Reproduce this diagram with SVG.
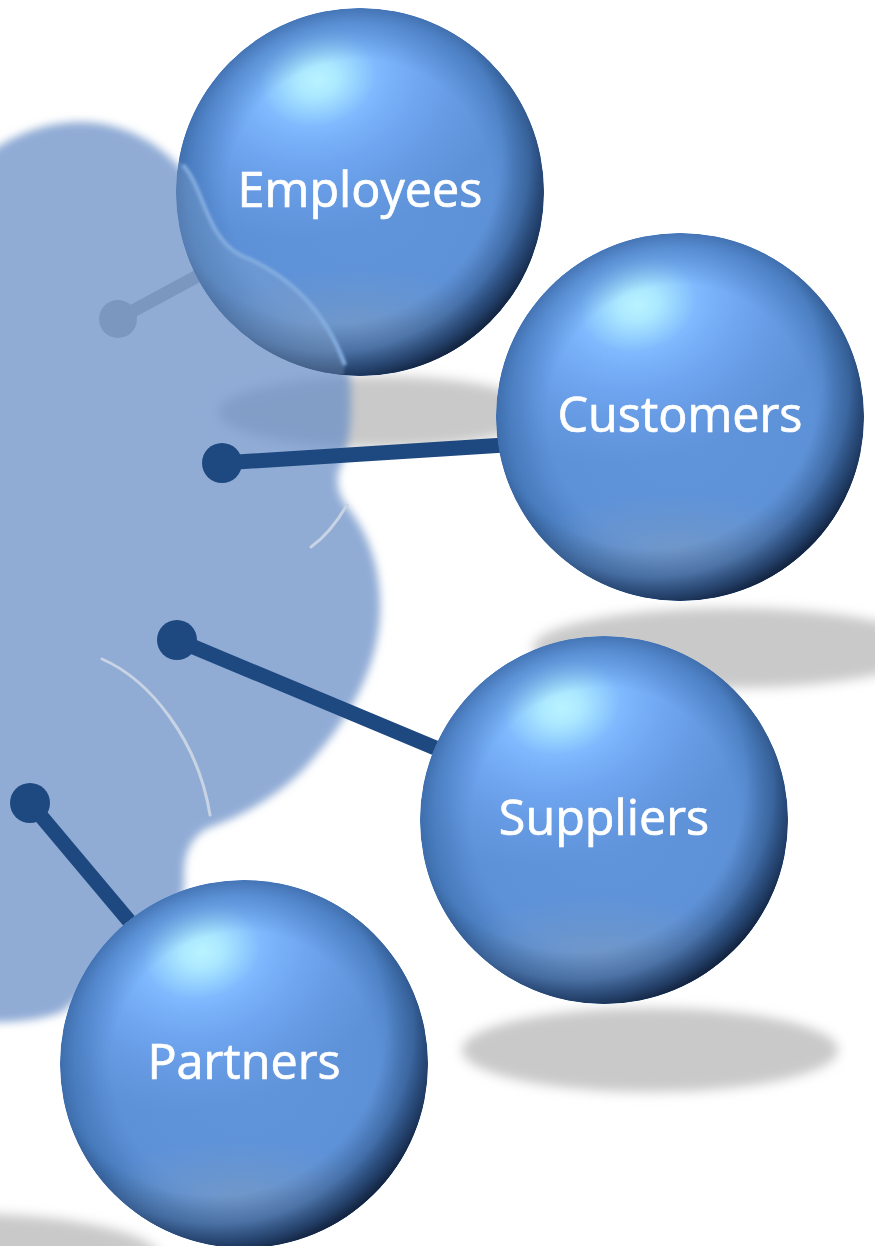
<svg xmlns="http://www.w3.org/2000/svg" xmlns:xlink="http://www.w3.org/1999/xlink" width="875" height="1246" viewBox="0 0 875 1246">
<style>
.shadow{fill:#c9c9c9;filter:url(#b6)}
.lbl{font-family:"Open Sans","Noto Sans","DejaVu Sans",sans-serif;font-size:48.5px;fill:#fff;stroke:#fff;stroke-width:.7;text-anchor:middle}
.conn{stroke:#1e4880;stroke-width:15;fill:none}
.dot{fill:#1e4880}
.arc{fill:none;stroke:#c8d3e3;stroke-width:3;stroke-linecap:round;filter:url(#b05)}
</style>
<defs>
<filter id="b6" x="-20%" y="-40%" width="140%" height="180%"><feGaussianBlur stdDeviation="6"/></filter>
<filter id="b3" x="-5%" y="-5%" width="110%" height="110%"><feGaussianBlur stdDeviation="4"/></filter>
<filter id="b1" x="-20%" y="-20%" width="140%" height="140%"><feGaussianBlur stdDeviation="1.6"/></filter>
<filter id="b05" x="-20%" y="-20%" width="140%" height="140%"><feGaussianBlur stdDeviation=".6"/></filter>
<radialGradient id="base" cx=".5" cy=".5" r=".5">
<stop offset="0" stop-color="#6095dc"/><stop offset=".8" stop-color="#5d91d7"/><stop offset=".95" stop-color="#5287c8"/><stop offset="1" stop-color="#4a7ebd"/>
</radialGradient>
<radialGradient id="hi" gradientUnits="userSpaceOnUse" cx="-42" cy="-112" r="200" gradientTransform="translate(-42 -112) rotate(-15) scale(1 .78) translate(42 112)">
<stop offset="0" stop-color="#b8f3ff"/><stop offset=".1" stop-color="#ace9ff"/><stop offset=".3" stop-color="#7fb9fe"/><stop offset=".55" stop-color="#74aaf6" stop-opacity=".75"/><stop offset="1" stop-color="#6ba0ea" stop-opacity="0"/>
</radialGradient>
<radialGradient id="ring" gradientUnits="userSpaceOnUse" cx="0" cy="0" r="184">
<stop offset=".72" stop-color="#3f72b4" stop-opacity="0"/><stop offset=".92" stop-color="#3f72b4" stop-opacity=".55"/><stop offset="1" stop-color="#3a68a6" stop-opacity=".8"/>
</radialGradient>
<radialGradient id="glow" gradientUnits="userSpaceOnUse" cx="0" cy="0" r="120" gradientTransform="translate(-5 135) scale(1.2 .5)">
<stop offset="0" stop-color="#7599c6" stop-opacity=".8"/><stop offset="1" stop-color="#7599c6" stop-opacity="0"/>
</radialGradient>
<radialGradient id="rim" gradientUnits="userSpaceOnUse" cx="-30" cy="-40" r="232">
<stop offset=".74" stop-color="#14294a" stop-opacity="0"/><stop offset=".86" stop-color="#1a3257" stop-opacity=".3"/><stop offset=".95" stop-color="#1a3257" stop-opacity=".8"/><stop offset="1" stop-color="#12233f" stop-opacity=".97"/>
</radialGradient>
<radialGradient id="edge" gradientUnits="userSpaceOnUse" cx="0" cy="0" r="184">
<stop offset=".965" stop-color="#5f96dc" stop-opacity="0"/><stop offset="1" stop-color="#5f96dc" stop-opacity=".95"/>
</radialGradient>
<clipPath id="cs"><circle r="184"/></clipPath>
<g id="sphere" clip-path="url(#cs)">
<circle r="184" fill="url(#base)"/>
<circle r="184" fill="url(#hi)"/>
<circle r="184" fill="url(#ring)"/>
<circle r="184" fill="url(#glow)"/>
<circle r="184" fill="url(#rim)"/>
<path d="M-184 60A194 194 0 0 0 110 184L-184 184Z" fill="url(#edge)"/>
</g>
<clipPath id="ce"><circle cx="360" cy="192" r="184"/></clipPath>
</defs>

<rect width="875" height="1246" fill="#fff"/>

<g id="shadows">
<ellipse class="shadow" cx="378" cy="412" rx="160" ry="36"/>
<ellipse class="shadow" cx="730" cy="648" rx="197" ry="40"/>
<ellipse class="shadow" cx="650" cy="1050" rx="188" ry="42"/>
<ellipse class="shadow" cx="-30" cy="1258" rx="190" ry="44"/>
</g>

<path id="blob" filter="url(#b3)" fill="#6b90c7" fill-opacity=".75" d="M-20 160C10 135 45 122 80 122C125 122 165 145 190 180L350 375C352 410 352 445 338 472C336 488 340 498 350 510C372 540 381 575 380 610C379 665 352 715 312 760C285 792 245 815 208 828C192 836 184 852 184 872C184 885 186 900 170 920L62 1012C40 1020 15 1023 -20 1022Z"/>

<g id="connectors">
<path d="M118 319L205 272" fill="none" stroke="#7b97c0" stroke-width="13"/>
<circle cx="118" cy="319" r="19" fill="#7b97c0"/>
<path class="conn" d="M222 463L505 445"/>
<circle class="dot" cx="222" cy="463" r="20"/>
<path class="conn" d="M177 640L445 752"/>
<circle class="dot" cx="177" cy="640" r="20"/>
<path class="conn" d="M30 803L135 928"/>
<circle class="dot" cx="30" cy="803" r="20"/>
</g>

<path class="arc" d="M311 547C325 537 337 522 347 505"/>
<path class="arc" d="M102 659C150 680 198 740 210 815"/>

<g id="node-employees">
<use xlink:href="#sphere" href="#sphere" transform="translate(360 192)"/>
<g clip-path="url(#ce)">
<path d="M170 150L183 165C205 190 205 235 240 255C290 275 325 310 345 365L340 400L170 400Z" fill="#8aa4c6" fill-opacity=".3" filter="url(#b1)"/>
<path d="M183 165C205 190 205 235 240 255C290 275 325 310 345 365" fill="none" stroke="#84ade0" stroke-width="4" filter="url(#b1)"/>
</g>
<text class="lbl" x="360" y="207">Employees</text>
</g>
<g id="node-customers">
<use xlink:href="#sphere" href="#sphere" transform="translate(680 417)"/>
<text class="lbl" x="680" y="432">Customers</text>
</g>
<g id="node-suppliers">
<use xlink:href="#sphere" href="#sphere" transform="translate(604 820)"/>
<text class="lbl" x="604" y="835">Suppliers</text>
</g>
<g id="node-partners">
<use xlink:href="#sphere" href="#sphere" transform="translate(244 1064)"/>
<text class="lbl" x="244" y="1079">Partners</text>
</g>
</svg>
